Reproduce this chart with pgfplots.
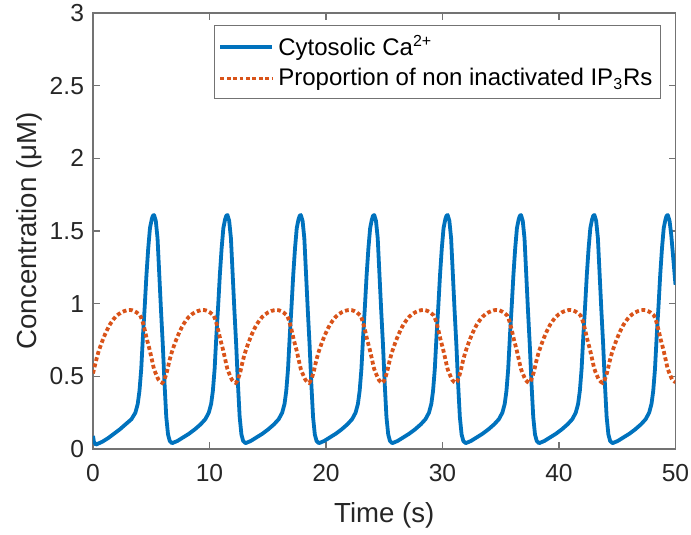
\documentclass[border=0pt]{standalone}
\usepackage{pgfplots}
\pgfplotsset{compat=1.18}
\usepackage{pgfplotstable}
\usepackage{fontspec}
\setmainfont{Liberation Sans}
\definecolor{mblue}{rgb}{0,0.447,0.741}
\definecolor{morange}{rgb}{0.85,0.325,0.098}
\definecolor{mtext}{rgb}{0.15,0.15,0.15}

\pgfplotstableread{
t v
0 0.09
0.08 0.05
0.25 0.03
0.8 0.05
1.3 0.075
1.8 0.105
2.3 0.135
2.8 0.17
3.3 0.205
3.64 0.25
3.84 0.31
3.99 0.40
4.14 0.55
4.29 0.78
4.44 0.98
4.59 1.20
4.74 1.38
4.89 1.52
5.04 1.58
5.14 1.605
5.24 1.61
5.39 1.57
5.54 1.45
5.69 1.2
5.84 0.95
5.99 0.72
6.14 0.45
6.29 0.22
6.44 0.10
6.59 0.055
6.79 0.04
7.24 0.055
7.74 0.08
8.24 0.105
8.74 0.135
9.24 0.17
9.64 0.205
9.94 0.25
10.14 0.31
10.29 0.40
10.44 0.55
10.59 0.78
10.74 0.98
10.89 1.20
11.04 1.38
11.19 1.52
11.34 1.58
11.44 1.605
11.54 1.61
11.69 1.57
11.84 1.45
11.99 1.2
12.14 0.95
12.29 0.72
12.44 0.45
12.59 0.22
12.74 0.10
12.89 0.055
13.09 0.04
13.54 0.055
14.04 0.08
14.54 0.105
15.04 0.135
15.54 0.17
15.94 0.205
16.24 0.25
16.44 0.31
16.59 0.40
16.74 0.55
16.89 0.78
17.04 0.98
17.19 1.20
17.34 1.38
17.49 1.52
17.64 1.58
17.74 1.605
17.84 1.61
17.99 1.57
18.14 1.45
18.29 1.2
18.44 0.95
18.59 0.72
18.74 0.45
18.89 0.22
19.04 0.10
19.19 0.055
19.39 0.04
19.84 0.055
20.34 0.08
20.84 0.105
21.34 0.135
21.84 0.17
22.24 0.205
22.54 0.25
22.74 0.31
22.89 0.40
23.04 0.55
23.19 0.78
23.34 0.98
23.49 1.20
23.64 1.38
23.79 1.52
23.94 1.58
24.04 1.605
24.14 1.61
24.29 1.57
24.44 1.45
24.59 1.2
24.74 0.95
24.89 0.72
25.04 0.45
25.19 0.22
25.34 0.10
25.49 0.055
25.69 0.04
26.14 0.055
26.64 0.08
27.14 0.105
27.64 0.135
28.14 0.17
28.54 0.205
28.84 0.25
29.04 0.31
29.19 0.40
29.34 0.55
29.49 0.78
29.64 0.98
29.79 1.20
29.94 1.38
30.09 1.52
30.24 1.58
30.34 1.605
30.44 1.61
30.59 1.57
30.74 1.45
30.89 1.2
31.04 0.95
31.19 0.72
31.34 0.45
31.49 0.22
31.64 0.10
31.79 0.055
31.99 0.04
32.44 0.055
32.94 0.08
33.44 0.105
33.94 0.135
34.44 0.17
34.84 0.205
35.14 0.25
35.34 0.31
35.49 0.40
35.64 0.55
35.79 0.78
35.94 0.98
36.09 1.20
36.24 1.38
36.39 1.52
36.54 1.58
36.64 1.605
36.74 1.61
36.89 1.57
37.04 1.45
37.19 1.2
37.34 0.95
37.49 0.72
37.64 0.45
37.79 0.22
37.94 0.10
38.09 0.055
38.29 0.04
38.74 0.055
39.24 0.08
39.74 0.105
40.24 0.135
40.74 0.17
41.14 0.205
41.44 0.25
41.64 0.31
41.79 0.40
41.94 0.55
42.09 0.78
42.24 0.98
42.39 1.20
42.54 1.38
42.69 1.52
42.84 1.58
42.94 1.605
43.04 1.61
43.19 1.57
43.34 1.45
43.49 1.2
43.64 0.95
43.79 0.72
43.94 0.45
44.09 0.22
44.24 0.10
44.39 0.055
44.59 0.04
45.04 0.055
45.54 0.08
46.04 0.105
46.54 0.135
47.04 0.17
47.44 0.205
47.74 0.25
47.94 0.31
48.09 0.40
48.24 0.55
48.39 0.78
48.54 0.98
48.69 1.20
48.84 1.38
48.99 1.52
49.14 1.58
49.24 1.605
49.34 1.61
49.49 1.57
49.64 1.47
49.80 1.32
50.00 1.13
}\cadata

\pgfplotstableread{
t v
0 0.52
0.24 0.60
0.44 0.66
0.74 0.73
1.04 0.79
1.44 0.855
1.94 0.91
2.44 0.94
2.94 0.955
3.34 0.955
3.74 0.94
4.04 0.92
4.24 0.88
4.44 0.82
4.64 0.75
4.84 0.69
5.04 0.62
5.24 0.55
5.44 0.51
5.64 0.475
5.94 0.455
6.14 0.48
6.34 0.53
6.54 0.60
6.74 0.66
7.04 0.73
7.34 0.79
7.74 0.855
8.24 0.91
8.74 0.94
9.24 0.955
9.64 0.955
10.04 0.94
10.34 0.92
10.54 0.88
10.74 0.82
10.94 0.75
11.14 0.69
11.34 0.62
11.54 0.55
11.74 0.51
11.94 0.475
12.24 0.455
12.44 0.48
12.64 0.53
12.84 0.60
13.04 0.66
13.34 0.73
13.64 0.79
14.04 0.855
14.54 0.91
15.04 0.94
15.54 0.955
15.94 0.955
16.34 0.94
16.64 0.92
16.84 0.88
17.04 0.82
17.24 0.75
17.44 0.69
17.64 0.62
17.84 0.55
18.04 0.51
18.24 0.475
18.54 0.455
18.74 0.48
18.94 0.53
19.14 0.60
19.34 0.66
19.64 0.73
19.94 0.79
20.34 0.855
20.84 0.91
21.34 0.94
21.84 0.955
22.24 0.955
22.64 0.94
22.94 0.92
23.14 0.88
23.34 0.82
23.54 0.75
23.74 0.69
23.94 0.62
24.14 0.55
24.34 0.51
24.54 0.475
24.84 0.455
25.04 0.48
25.24 0.53
25.44 0.60
25.64 0.66
25.94 0.73
26.24 0.79
26.64 0.855
27.14 0.91
27.64 0.94
28.14 0.955
28.54 0.955
28.94 0.94
29.24 0.92
29.44 0.88
29.64 0.82
29.84 0.75
30.04 0.69
30.24 0.62
30.44 0.55
30.64 0.51
30.84 0.475
31.14 0.455
31.34 0.48
31.54 0.53
31.74 0.60
31.94 0.66
32.24 0.73
32.54 0.79
32.94 0.855
33.44 0.91
33.94 0.94
34.44 0.955
34.84 0.955
35.24 0.94
35.54 0.92
35.74 0.88
35.94 0.82
36.14 0.75
36.34 0.69
36.54 0.62
36.74 0.55
36.94 0.51
37.14 0.475
37.44 0.455
37.64 0.48
37.84 0.53
38.04 0.60
38.24 0.66
38.54 0.73
38.84 0.79
39.24 0.855
39.74 0.91
40.24 0.94
40.74 0.955
41.14 0.955
41.54 0.94
41.84 0.92
42.04 0.88
42.24 0.82
42.44 0.75
42.64 0.69
42.84 0.62
43.04 0.55
43.24 0.51
43.44 0.475
43.74 0.455
43.94 0.48
44.14 0.53
44.34 0.60
44.54 0.66
44.84 0.73
45.14 0.79
45.54 0.855
46.04 0.91
46.54 0.94
47.04 0.955
47.44 0.955
47.84 0.94
48.14 0.92
48.34 0.88
48.54 0.82
48.74 0.75
48.94 0.69
49.14 0.62
49.34 0.55
49.54 0.51
49.74 0.475
50.0 0.46
}\ipdata

\begin{document}
\begin{tikzpicture}
\path[use as bounding box] (-46.5pt,-43pt) rectangle (299pt,224.5pt);
\begin{axis}[
  at={(0,0)}, anchor=south west,
  scale only axis, width=291.25pt, height=218pt,
  xmin=0, xmax=50, ymin=0, ymax=3,
  xtick={0,10,20,30,40,50},
  ytick={0,0.5,1,1.5,2,2.5,3},
  tick align=inside,
  major tick length=3.3pt,
  axis line style={draw=black!55, line width=0.6pt},
  tick style={draw=black!55, line width=0.6pt},
  /pgf/number format/assume math mode=true,
  ticklabel style={font=\fontsize{12.3}{14}\selectfont, text=mtext},
  xticklabel style={yshift=-4pt},
  yticklabel style={xshift=-1pt},
  label style={font=\fontsize{13.8}{16}\selectfont, text=mtext},
  xlabel={Time (s)},
  ylabel={Concentration (μM)},
  xlabel style={yshift=-3.5pt},
  ylabel style={yshift=-3pt},
  legend style={at={(1,1)}, anchor=north east, xshift=-7.25pt, yshift=-6pt,
    draw=black!55, line width=0.5pt, font=\fontsize{12}{14}\selectfont, text=black,
    inner xsep=2pt, inner ysep=3pt, row sep=1pt},
  legend cell align=left,
  legend image code/.code={\draw[#1] (0pt,0pt) -- (26pt,0pt);},
]
\addplot[mblue, line width=1.9pt, line join=round] table[x=t,y=v] {\cadata};
\addlegendentry{Cytosolic Ca\textsuperscript{2+}}
\addplot[morange, line width=1.9pt, dash pattern=on 1.9pt off 1.3pt, smooth] table[x=t,y=v] {\ipdata};
\addlegendentry{Proportion of non inactivated IP\textsubscript{3}Rs}
\end{axis}
\end{tikzpicture}
\end{document}
